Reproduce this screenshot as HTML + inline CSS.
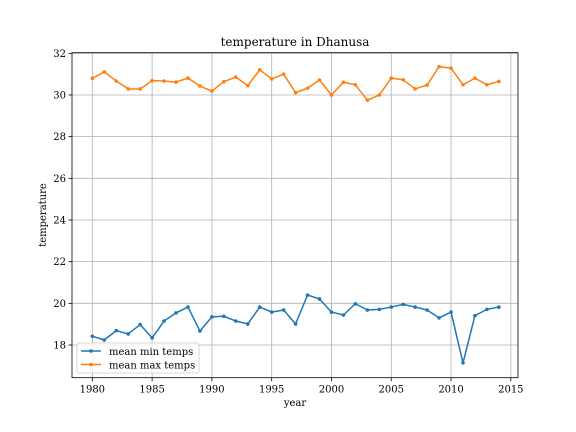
<!DOCTYPE html>
<html><head><meta charset="utf-8"><style>
html,body{margin:0;padding:0;background:#fff;}
svg{display:block;font-family:"DejaVu Serif","Liberation Serif",serif;}
</style></head><body>
<svg id="chart" width="576" height="432" viewBox="0 0 576 432">
<rect width="576" height="432" fill="#fff"/>
<g id="grid"></g>
<g id="series"></g>
<rect x="72" y="52.7" width="446" height="325" fill="none" stroke="#000" stroke-width="0.8"/>
<g id="ticks"></g>
<text x="295" y="46" text-anchor="middle" font-size="12">temperature in Dhanusa</text>
<text x="295" y="406" text-anchor="middle" font-size="10">year</text>
<text x="0" y="0" transform="translate(46,215) rotate(-90)" text-anchor="middle" font-size="10">temperature</text>
<g>
<rect x="77" y="343" width="122" height="30" rx="2" fill="#fff" fill-opacity="0.8" stroke="#ccc" stroke-width="0.8"/>
<g>
<line x1="81" y1="351" x2="101" y2="351" stroke="#1f77b4" stroke-width="1.5"/><circle cx="91" cy="351" r="1.8" fill="#1f77b4"/>
<text x="109" y="355" font-size="10">mean min temps</text></g>
<g>
<line x1="81" y1="364.5" x2="101" y2="364.5" stroke="#ff7f0e" stroke-width="1.5"/><circle cx="91" cy="364.5" r="1.8" fill="#ff7f0e"/>
<text x="109" y="368.5" font-size="10">mean max temps</text></g>
</g>
</svg>
<script>
const years=[1980,1981,1982,1983,1984,1985,1986,1987,1988,1989,1990,1991,1992,1993,1994,1995,1996,1997,1998,1999,2000,2001,2002,2003,2004,2005,2006,2007,2008,2009,2010,2011,2012,2013,2014];
const minTemps=[18.42,18.24,18.69,18.53,18.98,18.34,19.15,19.54,19.82,18.67,19.35,19.38,19.15,19.01,19.82,19.58,19.68,19.01,20.40,20.21,19.58,19.44,19.98,19.68,19.71,19.82,19.95,19.82,19.68,19.30,19.58,17.14,19.41,19.71,19.82];
const maxTemps=[30.80,31.11,30.67,30.29,30.29,30.69,30.67,30.62,30.81,30.43,30.19,30.64,30.86,30.45,31.21,30.77,31.00,30.11,30.33,30.72,30.00,30.61,30.49,29.75,30.00,30.81,30.73,30.29,30.48,31.36,31.29,30.49,30.81,30.49,30.65];
const xTicks=[1980,1985,1990,1995,2000,2005,2010,2015];
const yTicks=[18,20,22,24,26,28,30,32];
const NS='http://www.w3.org/2000/svg';
const L=72,R=518,T=52.7,B=377.7;
const xMin=1978.3,xMax=2015.6,yMin=16.43,yMax=32.03;
const xs=v=>L+(v-xMin)/(xMax-xMin)*(R-L);
const ys=v=>B-(v-yMin)/(yMax-yMin)*(B-T);
function mk(tag,attrs,parent){const e=document.createElementNS(NS,tag);for(const k in attrs)e.setAttribute(k,attrs[k]);parent.appendChild(e);return e;}
const grid=document.getElementById('grid'),ticks=document.getElementById('ticks'),series=document.getElementById('series');
xTicks.forEach(t=>{const x=xs(t);
const g=mk('line',{x1:x,x2:x,y1:T,y2:B,stroke:'#b0b0b0','stroke-width':0.8},grid);


const tk=mk('line',{x1:x,x2:x,y1:B,y2:B+3.5,stroke:'#000','stroke-width':0.8},ticks);


const tx=mk('text',{x:x,y:B+15,'text-anchor':'middle','font-size':10},ticks);tx.textContent=t;

});
yTicks.forEach(t=>{const y=ys(t);
const g=mk('line',{x1:L,x2:R,y1:y,y2:y,stroke:'#b0b0b0','stroke-width':0.8},grid);


const tk=mk('line',{x1:L-3.5,x2:L,y1:y,y2:y,stroke:'#000','stroke-width':0.8},ticks);


const tx=mk('text',{x:L-6,y:y+3.5,'text-anchor':'end','font-size':10},ticks);tx.textContent=t;

});
function drawSeries(vals,color,name){
const g=mk('g',{},series);


const pts=vals.map((v,i)=>xs(years[i])+','+ys(v)).join(' ');
mk('polyline',{points:pts,fill:'none',stroke:color,'stroke-width':1.5,'stroke-linejoin':'round'},g);
vals.forEach((v,i)=>{const c=mk('circle',{cx:xs(years[i]),cy:ys(v),r:1.8,fill:color},g);

});}
drawSeries(minTemps,'#1f77b4','mean-min-line');
drawSeries(maxTemps,'#ff7f0e','mean-max-line');
</script>
</body></html>
